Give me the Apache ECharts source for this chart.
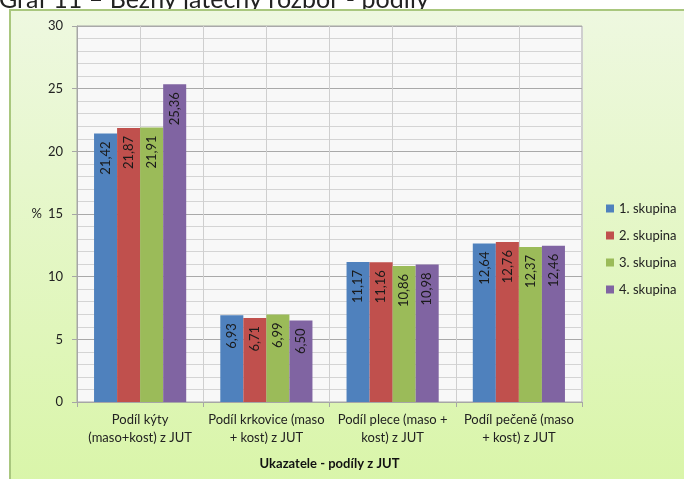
<!DOCTYPE html>
<html>
<head>
<meta charset="utf-8">
<script src="https://cdn.jsdelivr.net/npm/echarts@6/dist/echarts.min.js"></script>
<style>
  html, body { margin: 0; padding: 0; background: #ffffff; }
  #chart { width: 684px; height: 479px; }
</style>
</head>
<body>
<div id="chart"></div>
<script>
// Ukazatele (kategorie na ose X)
const categories = [
  'Podíl kýty\n(maso+kost) z JUT',
  'Podíl krkovice (maso\n+ kost) z JUT',
  'Podíl plece (maso +\nkost) z JUT',
  'Podíl pečeně (maso\n+ kost) z JUT'
];

// Podíly v % pro jednotlivé skupiny
const skupina1 = [21.42, 6.93, 11.17, 12.64];
const skupina2 = [21.87, 6.71, 11.16, 12.76];
const skupina3 = [21.91, 6.99, 10.86, 12.37];
const skupina4 = [25.36, 6.50, 10.98, 12.46];

const seriesNames = ['1. skupina', '2. skupina', '3. skupina', '4. skupina'];
const seriesData = [skupina1, skupina2, skupina3, skupina4];
const colors = ['#4f81bd', '#c0504d', '#9bbb59', '#8064a2'];

const yTicks = [0, 5, 10, 15, 20, 25, 30];

const FONT = 'Lato, "Open Sans", sans-serif';

const chart = echarts.init(document.getElementById('chart'), null, { renderer: 'canvas' });

const grid = { left: 77, top: 26, width: 505, height: 376 };

chart.setOption({
  backgroundColor: '#ffffff',
  animation: false,
  textStyle: { fontFamily: FONT },
  graphic: [
    {
      type: 'text',
      z: -20,
      left: -1,
      top: -13,
      silent: true,
      style: {
        text: 'Graf 11 – Běžný jatečný rozbor - podíly',
        fill: '#222222',
        font: '25px ' + FONT
      }
    },
    {
      type: 'rect',
      z: -10,
      silent: true,
      shape: { x: 10, y: 10, width: 700, height: 500 },
      style: {
        fill: new echarts.graphic.LinearGradient(0, 0, 0, 1, [
          { offset: 0, color: '#eef8e0' },
          { offset: 1, color: '#d8f5a6' }
        ]),
        stroke: '#a9c77e',
        lineWidth: 2
      }
    }
  ],
  legend: {
    orient: 'vertical',
    left: 601,
    top: 197,
    itemWidth: 8,
    itemHeight: 8,
    itemGap: 14,
    icon: 'rect',
    data: seriesNames,
    textStyle: { color: '#222222', fontSize: 13, fontFamily: FONT }
  },
  grid: Object.assign({ show: true, backgroundColor: '#f8f8f8', borderColor: '#a6a6a6', borderWidth: 1 }, grid),
  xAxis: [
    {
      type: 'category',
      data: categories,
      axisLine: { show: true, lineStyle: { color: '#a6a6a6' } },
      axisTick: { show: true, length: 5, lineStyle: { color: '#a6a6a6' } },
      splitLine: { show: false },
      axisLabel: {
        color: '#222222',
        fontSize: 13,
        lineHeight: 18,
        margin: 9,
        interval: 0,
        fontFamily: FONT
      },
      name: 'Ukazatele - podíly z JUT',
      nameLocation: 'middle',
      nameGap: 55,
      nameTextStyle: { color: '#111111', fontSize: 13, fontWeight: 'bold', fontFamily: FONT }
    },
    {
      // pomocná osa pro svislé mřížky (hranice i středy kategorií)
      type: 'value',
      min: 0,
      max: 8,
      interval: 1,
      show: true,
      position: 'bottom',
      axisLine: { show: false },
      axisTick: { show: false },
      axisLabel: { show: false },
      splitLine: { show: true, lineStyle: { color: '#cfcfcf', width: 1 } }
    }
  ],
  yAxis: {
    type: 'value',
    min: 0,
    max: 30,
    interval: 5,
    name: '%',
    nameLocation: 'middle',
    nameRotate: 0,
    nameGap: 34,
    nameTextStyle: { color: '#222222', fontSize: 13, align: 'right', fontFamily: FONT },
    axisLine: { show: true, lineStyle: { color: '#a6a6a6' } },
    axisTick: { show: true, length: 5, lineStyle: { color: '#a6a6a6' } },
    axisLabel: {
      color: '#222222',
      fontSize: 13,
      margin: 14,
      fontFamily: FONT,
      formatter: v => (yTicks.indexOf(v) >= 0 ? String(v) : '')
    },
    splitLine: { show: true, lineStyle: { color: '#a9a9a9', width: 1 } },
    minorTick: { show: false, splitNumber: 5 },
    minorSplitLine: { show: true, lineStyle: { color: '#d4d4d4', width: 1 } }
  },
  series: seriesData.map((d, i) => ({
    name: seriesNames[i],
    type: 'bar',
    xAxisIndex: 0,
    data: d,
    barGap: '0%',
    barCategoryGap: '27%',
    itemStyle: { color: colors[i] },
    label: {
      show: true,
      position: 'insideTop',
      rotate: 90,
      align: 'right',
      verticalAlign: 'middle',
      distance: 8,
      color: '#1a1a1a',
      fontSize: 13,
      fontFamily: FONT,
      formatter: p => p.value.toFixed(2).replace('.', ',')
    }
  }))
});
</script>
</body>
</html>
